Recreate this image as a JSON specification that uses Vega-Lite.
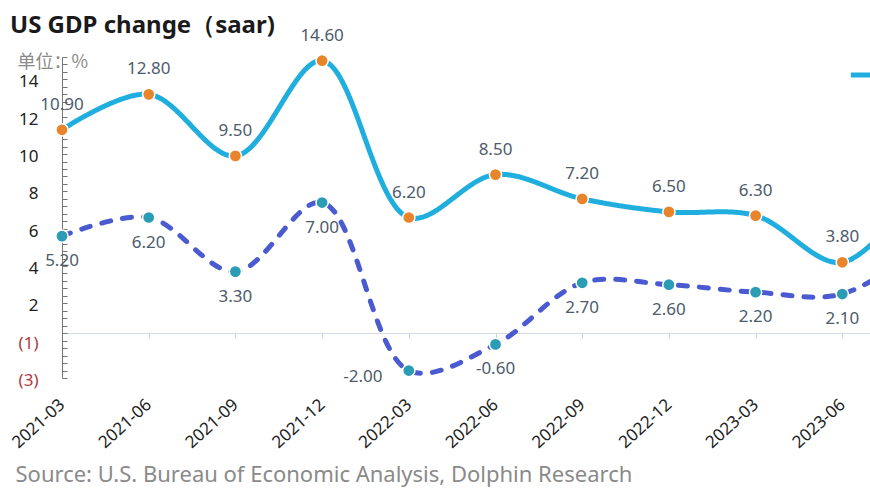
{
  "$schema": "https://vega.github.io/schema/vega-lite/v6.json",
  "autosize": {"type": "none"},
  "padding": {"left": 62, "top": 57, "right": 0, "bottom": 114},
  "width": 808,
  "height": 321,
  "background": "white",
  "config": {
    "font": "Noto Sans",
    "view": {"stroke": null},
    "locale": {"number": {"decimal": ".", "thousands": ",", "grouping": [3], "currency": ["$", ""], "minus": "-"}}
  },
  "title": {
    "text": "US GDP change（saar)",
    "anchor": "start",
    "frame": "group",
    "dx": -52,
    "dy": 15,
    "fontSize": 24,
    "fontWeight": "bold",
    "color": "#1a1a1a",
    "font": "Noto Sans"
  },
  "data": {
    "values": [
      {"quarter": "2021-03", "series": "Nominal GDP QoQ (saar)", "value": 10.9},
      {"quarter": "2021-06", "series": "Nominal GDP QoQ (saar)", "value": 12.8},
      {"quarter": "2021-09", "series": "Nominal GDP QoQ (saar)", "value": 9.5},
      {"quarter": "2021-12", "series": "Nominal GDP QoQ (saar)", "value": 14.6},
      {"quarter": "2022-03", "series": "Nominal GDP QoQ (saar)", "value": 6.2},
      {"quarter": "2022-06", "series": "Nominal GDP QoQ (saar)", "value": 8.5},
      {"quarter": "2022-09", "series": "Nominal GDP QoQ (saar)", "value": 7.2},
      {"quarter": "2022-12", "series": "Nominal GDP QoQ (saar)", "value": 6.5},
      {"quarter": "2023-03", "series": "Nominal GDP QoQ (saar)", "value": 6.3},
      {"quarter": "2023-06", "series": "Nominal GDP QoQ (saar)", "value": 3.8},
      {"quarter": "2023-09", "series": "Nominal GDP QoQ (saar)", "value": 8.5},
      {"quarter": "2021-03", "series": "Real GDP QoQ (saar)", "value": 5.2},
      {"quarter": "2021-06", "series": "Real GDP QoQ (saar)", "value": 6.2},
      {"quarter": "2021-09", "series": "Real GDP QoQ (saar)", "value": 3.3},
      {"quarter": "2021-12", "series": "Real GDP QoQ (saar)", "value": 7.0},
      {"quarter": "2022-03", "series": "Real GDP QoQ (saar)", "value": -2.0},
      {"quarter": "2022-06", "series": "Real GDP QoQ (saar)", "value": -0.6},
      {"quarter": "2022-09", "series": "Real GDP QoQ (saar)", "value": 2.7},
      {"quarter": "2022-12", "series": "Real GDP QoQ (saar)", "value": 2.6},
      {"quarter": "2023-03", "series": "Real GDP QoQ (saar)", "value": 2.2},
      {"quarter": "2023-06", "series": "Real GDP QoQ (saar)", "value": 2.1},
      {"quarter": "2023-09", "series": "Real GDP QoQ (saar)", "value": 4.9}
    ]
  },
  "encoding": {
    "x": {
      "field": "quarter",
      "type": "ordinal",
      "sort": null,
      "scale": {"type": "point", "padding": 0, "rangeMax": 867},
      "axis": {
        "values": ["2021-03", "2021-06", "2021-09", "2021-12", "2022-03", "2022-06", "2022-09", "2022-12", "2023-03", "2023-06"],
        "offset": -45,
        "domainColor": "#D3DCE6",
        "tickColor": "#C8D0DA",
        "tickSize": 5,
        "grid": false,
        "labelAngle": -42,
        "labelAlign": "right",
        "labelBaseline": "middle",
        "labelPadding": 64,
        "labelFontSize": 17,
        "labelColor": "#222222",
        "labelOverlap": false,
        "title": "Source: U.S. Bureau of Economic Analysis, Dolphin Research",
        "titleAnchor": "start",
        "titleAlign": "left",
        "titleBaseline": "middle",
        "titleX": -47,
        "titleY": 141,
        "titleFontSize": 22,
        "titleFontWeight": "normal",
        "titleColor": "#8a8a8a"
      }
    },
    "y": {
      "field": "value",
      "type": "quantitative",
      "scale": {"domain": [-2.4, 14.8], "nice": false, "zero": false},
      "axis": {
        "values": [-2.4, -2, -1.6, -1.2, -0.8, -0.4, 0, 0.4, 0.8, 1.2, 1.6, 2, 2.4, 2.8, 3.2, 3.6, 4, 4.4, 4.8, 5.2, 5.6, 6, 6.4, 6.8, 7.2, 7.6, 8, 8.4, 8.8, 9.2, 9.6, 10, 10.4, 10.8, 11.2, 11.6, 12, 12.4, 12.8, 13.2, 13.6, 14, 14.4, 14.8],
        "labelExpr": "datum.value % 2 == 0 ? (datum.value == 0 ? '(1)' : datum.value == -2 ? '(3)' : format(datum.value, 'd')) : ''",
        "labelOffset": 10,
        "labelPadding": 29,
        "labelOverlap": false,
        "labelFlush": false,
        "labelBound": false,
        "tickSize": -5,
        "tickColor": "#777777",
        "domainColor": "#777777",
        "grid": false,
        "labelFontSize": 17,
        "labelColor": {"condition": {"test": "datum.value <= 0", "value": "#B03A3A"}, "value": "#222222"},
        "title": "单位：%",
        "titleFont": "Noto Sans CJK SC",
        "titleAngle": 0,
        "titleAlign": "left",
        "titleBaseline": "middle",
        "titleX": -45,
        "titleY": 5,
        "titleFontSize": 18,
        "titleFontWeight": "normal",
        "titleColor": "#8a8a8a"
      }
    }
  },
  "layer": [
    {
      "mark": {"type": "line", "interpolate": "catmull-rom", "strokeWidth": 5, "strokeCap": "round"},
      "encoding": {
        "color": {
          "field": "series",
          "type": "nominal",
          "scale": {"domain": ["Nominal GDP QoQ (saar)", "Real GDP QoQ (saar)"], "range": ["#1FAEDD", "#4A5AD0"]},
          "legend": {
            "orient": "none",
            "legendX": 786,
            "legendY": 4,
            "direction": "horizontal",
            "title": null,
            "symbolType": "stroke",
            "symbolStrokeWidth": 5,
            "symbolSize": 500,
            "labelFontSize": 16,
            "padding": 0
          }
        },
        "strokeDash": {
          "field": "series",
          "type": "nominal",
          "scale": {"domain": ["Nominal GDP QoQ (saar)", "Real GDP QoQ (saar)"], "range": [[1, 0], [9, 12]]},
          "legend": null
        }
      }
    },
    {
      "transform": [{"filter": "datum.quarter != '2023-09'"}],
      "mark": {"type": "circle", "size": 150, "stroke": "white", "strokeWidth": 1.5, "opacity": 1},
      "encoding": {
        "fill": {
          "field": "series",
          "type": "nominal",
          "scale": {"domain": ["Nominal GDP QoQ (saar)", "Real GDP QoQ (saar)"], "range": ["#E8852B", "#2B9CB6"]},
          "legend": null
        }
      }
    },
    {
      "transform": [{"filter": "datum.quarter != '2023-09' && datum.series == 'Nominal GDP QoQ (saar)'"}],
      "mark": {"type": "text", "dy": -25, "fontSize": 17, "color": "#4D5B6B"},
      "encoding": {"text": {"field": "value", "type": "quantitative", "format": ".2f"}}
    },
    {
      "transform": [{"filter": "datum.quarter != '2023-09' && datum.quarter != '2022-03' && datum.series == 'Real GDP QoQ (saar)'"}],
      "mark": {"type": "text", "dy": 25, "fontSize": 17, "color": "#4D5B6B"},
      "encoding": {"text": {"field": "value", "type": "quantitative", "format": ".2f"}}
    },
    {
      "transform": [{"filter": "datum.quarter == '2022-03' && datum.series == 'Real GDP QoQ (saar)'"}],
      "mark": {"type": "text", "dx": -46, "dy": 6, "fontSize": 17, "color": "#4D5B6B"},
      "encoding": {"text": {"field": "value", "type": "quantitative", "format": ".2f"}}
    }
  ]
}
